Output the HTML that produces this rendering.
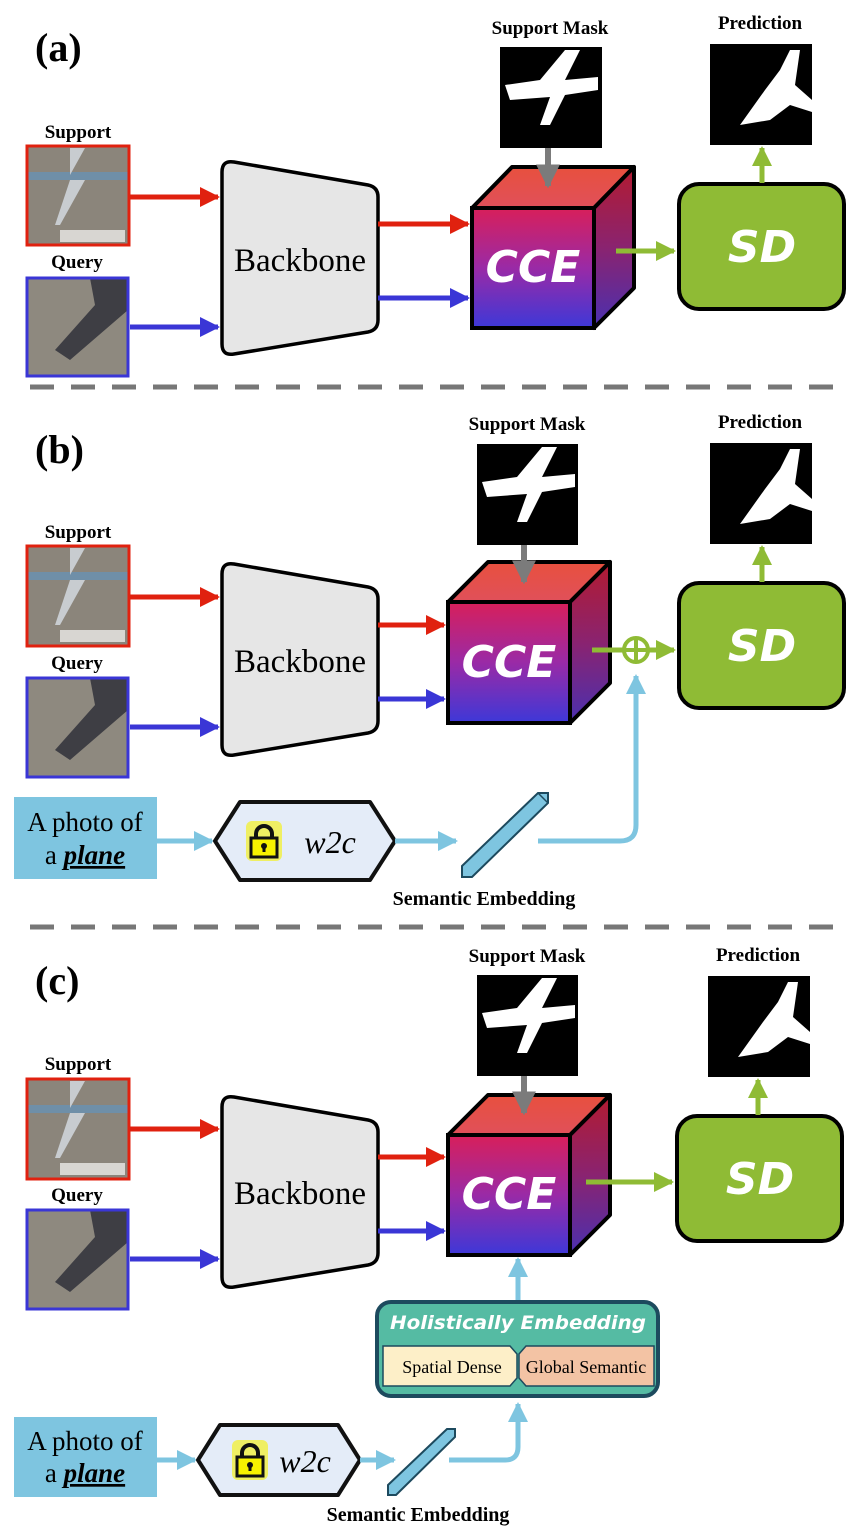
<!DOCTYPE html>
<html><head><meta charset="utf-8"><style>html,body{margin:0;padding:0;background:#fff}svg{display:block}</style></head>
<body>
<svg width="859" height="1536" viewBox="0 0 859 1536" xmlns="http://www.w3.org/2000/svg" font-family="'Liberation Serif',serif">
<defs>
<linearGradient id="gf" x1="0" y1="0" x2="0" y2="1"><stop offset="0" stop-color="#d81f5a"/><stop offset="0.5" stop-color="#9a2aa6"/><stop offset="1" stop-color="#3d38d8"/></linearGradient>
<linearGradient id="gt" x1="0" y1="0" x2="0" y2="1"><stop offset="0" stop-color="#e8503e"/><stop offset="1" stop-color="#e0505a"/></linearGradient>
<linearGradient id="gr" x1="0" y1="0" x2="0" y2="1"><stop offset="0" stop-color="#b31b30"/><stop offset="0.5" stop-color="#8a2370"/><stop offset="1" stop-color="#4a30b0"/></linearGradient>
<marker id="ar" viewBox="0 0 10 10" refX="9" refY="5" markerWidth="4" markerHeight="4" orient="auto"><path d="M0,0L10,5L0,10z" fill="#e0210f"/></marker>
<marker id="ab" viewBox="0 0 10 10" refX="9" refY="5" markerWidth="4" markerHeight="4" orient="auto"><path d="M0,0L10,5L0,10z" fill="#3a36d6"/></marker>
<marker id="ag" viewBox="0 0 10 10" refX="9" refY="5" markerWidth="4" markerHeight="4" orient="auto"><path d="M0,0L10,5L0,10z" fill="#8fbb35"/></marker>
<marker id="ay" viewBox="0 0 10 10" refX="9" refY="5" markerWidth="4" markerHeight="4" orient="auto"><path d="M0,0L10,5L0,10z" fill="#7b7b7b"/></marker>
<marker id="al" viewBox="0 0 10 10" refX="9" refY="5" markerWidth="4" markerHeight="4" orient="auto"><path d="M0,0L10,5L0,10z" fill="#7ec5e0"/></marker>
</defs>

<!-- ===== PANEL A ===== -->
<text x="35" y="61" font-size="40" font-weight="bold">(a)</text>
<text x="78" y="138" font-size="19" font-weight="bold" text-anchor="middle">Support</text>
<g><rect x="27" y="146" width="102" height="99" fill="#8b857b"/><rect x="27" y="172" width="102" height="8" fill="#6f8fa8"/><path d="M70,148 L85,148 L70,175 Z M70,180 L85,180 L60,225 L55,225 Z" fill="#c8ccd0"/><rect x="60" y="230" width="65" height="12" fill="#d8d6d2"/></g>
<rect x="27" y="146" width="102" height="99" fill="none" stroke="#e0210f" stroke-width="3"/>
<text x="77" y="268" font-size="19" font-weight="bold" text-anchor="middle">Query</text>
<g><rect x="27" y="278" width="101" height="98" fill="#8e897f"/><path d="M90,278 L128,278 L128,310 L70,360 L55,350 L95,305 Z" fill="#3e3e44"/></g>
<rect x="27" y="278" width="101" height="98" fill="none" stroke="#3a36d6" stroke-width="3"/>
<line x1="130" y1="197" x2="218" y2="197" stroke="#e0210f" stroke-width="5" marker-end="url(#ar)"/>
<line x1="130" y1="327" x2="218" y2="327" stroke="#3a36d6" stroke-width="5" marker-end="url(#ab)"/>
<path d="M222,172 Q222,160 234,162 L368,185 Q378,187 378,197 L378,320 Q378,330 368,332 L234,354 Q222,356 222,344 Z" fill="#e6e6e6" stroke="#000" stroke-width="3.5"/>
<text x="300" y="271" font-size="33" text-anchor="middle">Backbone</text>
<line x1="378" y1="224" x2="468" y2="224" stroke="#e0210f" stroke-width="5" marker-end="url(#ar)"/>
<line x1="378" y1="298" x2="468" y2="298" stroke="#3a36d6" stroke-width="5" marker-end="url(#ab)"/>
<text x="550" y="34" font-size="19" font-weight="bold" text-anchor="middle">Support Mask</text>
<rect x="500" y="47" width="102" height="101" fill="#000"/>
<path d="M505,85 L540,80 L565,50 L580,50 L565,80 L598,77 L598,90 L565,95 L550,125 L540,125 L550,97 L510,100 Z" fill="#fff"/>
<polygon points="472,208 512,167 634,167 594,208" fill="url(#gt)" stroke="#000" stroke-width="4" stroke-linejoin="round"/>
<polygon points="594,208 634,167 634,288 594,328" fill="url(#gr)" stroke="#000" stroke-width="4" stroke-linejoin="round"/>
<rect x="472" y="208" width="122" height="120" fill="url(#gf)" stroke="#000" stroke-width="4"/>
<line x1="548" y1="148" x2="548" y2="186" stroke="#7b7b7b" stroke-width="6" marker-end="url(#ay)"/>
<text x="533" y="282" font-size="44" font-weight="bold" font-style="italic" fill="#fff" text-anchor="middle" font-family="'DejaVu Sans',sans-serif">CCE</text>
<line x1="616" y1="251" x2="674" y2="251" stroke="#8fbb35" stroke-width="5" marker-end="url(#ag)"/>
<rect x="679" y="184" width="165" height="125" rx="20" fill="#8fbb35" stroke="#000" stroke-width="4"/>
<text x="762" y="262" font-size="44" font-weight="bold" font-style="italic" fill="#fff" text-anchor="middle" font-family="'DejaVu Sans',sans-serif">SD</text>
<text x="760" y="29" font-size="19" font-weight="bold" text-anchor="middle">Prediction</text>
<rect x="710" y="44" width="102" height="101" fill="#000"/>
<path d="M740,125 L765,90 L780,70 L790,50 L800,50 L795,85 L812,100 L812,112 L790,105 L770,120 Z" fill="#fff"/>
<line x1="762" y1="183" x2="762" y2="148" stroke="#8fbb35" stroke-width="5" marker-end="url(#ag)"/>
<line x1="30" y1="387" x2="842" y2="387" stroke="#777" stroke-width="5" stroke-dasharray="24,17"/>

<!-- ===== PANEL B ===== -->
<text x="35" y="463" font-size="40" font-weight="bold">(b)</text>
<text x="78" y="538" font-size="19" font-weight="bold" text-anchor="middle">Support</text>
<g><rect x="27" y="546" width="102" height="100" fill="#8b857b"/><rect x="27" y="572" width="102" height="8" fill="#6f8fa8"/><path d="M70,548 L85,548 L70,575 Z M70,580 L85,580 L60,625 L55,625 Z" fill="#c8ccd0"/><rect x="60" y="630" width="65" height="12" fill="#d8d6d2"/></g>
<rect x="27" y="546" width="102" height="100" fill="none" stroke="#e0210f" stroke-width="3"/>
<text x="77" y="669" font-size="19" font-weight="bold" text-anchor="middle">Query</text>
<g><rect x="27" y="678" width="101" height="99" fill="#8e897f"/><path d="M90,678 L128,678 L128,710 L70,760 L55,750 L95,705 Z" fill="#3e3e44"/></g>
<rect x="27" y="678" width="101" height="99" fill="none" stroke="#3a36d6" stroke-width="3"/>
<line x1="130" y1="597" x2="218" y2="597" stroke="#e0210f" stroke-width="5" marker-end="url(#ar)"/>
<line x1="130" y1="727" x2="218" y2="727" stroke="#3a36d6" stroke-width="5" marker-end="url(#ab)"/>
<path d="M222,574 Q222,562 234,564 L368,587 Q378,589 378,599 L378,721 Q378,731 368,733 L234,755 Q222,757 222,745 Z" fill="#e6e6e6" stroke="#000" stroke-width="3.5"/>
<text x="300" y="672" font-size="33" text-anchor="middle">Backbone</text>
<line x1="378" y1="625" x2="444" y2="625" stroke="#e0210f" stroke-width="5" marker-end="url(#ar)"/>
<line x1="378" y1="699" x2="444" y2="699" stroke="#3a36d6" stroke-width="5" marker-end="url(#ab)"/>
<text x="527" y="430" font-size="19" font-weight="bold" text-anchor="middle">Support Mask</text>
<rect x="477" y="444" width="101" height="101" fill="#000"/>
<path d="M482,482 L517,477 L542,447 L557,447 L542,477 L575,474 L575,487 L542,492 L527,522 L517,522 L527,494 L487,497 Z" fill="#fff"/>
<polygon points="448,602 488,562 610,562 570,602" fill="url(#gt)" stroke="#000" stroke-width="4" stroke-linejoin="round"/>
<polygon points="570,602 610,562 610,683 570,723" fill="url(#gr)" stroke="#000" stroke-width="4" stroke-linejoin="round"/>
<rect x="448" y="602" width="122" height="121" fill="url(#gf)" stroke="#000" stroke-width="4"/>
<line x1="524" y1="545" x2="524" y2="582" stroke="#7b7b7b" stroke-width="6" marker-end="url(#ay)"/>
<text x="509" y="677" font-size="44" font-weight="bold" font-style="italic" fill="#fff" text-anchor="middle" font-family="'DejaVu Sans',sans-serif">CCE</text>
<line x1="592" y1="650" x2="624" y2="650" stroke="#8fbb35" stroke-width="5"/>
<circle cx="636" cy="650" r="12" fill="none" stroke="#8fbb35" stroke-width="4"/>
<line x1="624" y1="650" x2="648" y2="650" stroke="#8fbb35" stroke-width="4"/>
<line x1="636" y1="638" x2="636" y2="662" stroke="#8fbb35" stroke-width="4"/>
<line x1="648" y1="650" x2="674" y2="650" stroke="#8fbb35" stroke-width="5" marker-end="url(#ag)"/>
<rect x="679" y="583" width="165" height="125" rx="20" fill="#8fbb35" stroke="#000" stroke-width="4"/>
<text x="762" y="661" font-size="44" font-weight="bold" font-style="italic" fill="#fff" text-anchor="middle" font-family="'DejaVu Sans',sans-serif">SD</text>
<text x="760" y="428" font-size="19" font-weight="bold" text-anchor="middle">Prediction</text>
<rect x="710" y="443" width="102" height="101" fill="#000"/>
<path d="M740,524 L765,489 L780,469 L790,449 L800,449 L795,484 L812,499 L812,511 L790,504 L770,519 Z" fill="#fff"/>
<line x1="762" y1="582" x2="762" y2="547" stroke="#8fbb35" stroke-width="5" marker-end="url(#ag)"/>
<rect x="14" y="797" width="143" height="82" fill="#7ec5e0"/>
<text x="85" y="831" font-size="27" text-anchor="middle">A photo of</text>
<text x="85" y="864" font-size="27" text-anchor="middle">a <tspan font-weight="bold" font-style="italic" text-decoration="underline">plane</tspan></text>
<line x1="157" y1="841" x2="212" y2="841" stroke="#7ec5e0" stroke-width="5" marker-end="url(#al)"/>
<polygon points="215,841 240,802 370,802 395,841 370,880 240,880" fill="#e4ecf8" stroke="#111" stroke-width="4" stroke-linejoin="round"/>
<g transform="translate(264,843)"><rect x="-18" y="-22" width="36" height="40" rx="6" fill="#f7f200" opacity="0.6"/><path d="M-8,-4 L-8,-9 A8,8 0 0 1 8,-9 L8,-4" fill="none" stroke="#111" stroke-width="4"/><rect x="-13" y="-5" width="26" height="19" fill="#f7f200" stroke="#111" stroke-width="3"/><circle cx="0" cy="3" r="3" fill="#111"/><rect x="-1.5" y="3" width="3" height="6" fill="#111"/></g>
<text x="330" y="853" font-size="32" font-style="italic" text-anchor="middle">w2c</text>
<line x1="395" y1="841" x2="456" y2="841" stroke="#7ec5e0" stroke-width="5" marker-end="url(#al)"/>
<polygon points="462,866 538,793 548,793 548,803 472,877 462,877" fill="#7ec5e0" stroke="#1d4a5e" stroke-width="2"/>
<line x1="538" y1="793" x2="548" y2="803" stroke="#1d4a5e" stroke-width="1.5"/>
<path d="M538,841 L620,841 Q636,841 636,825 L636,676" fill="none" stroke="#7ec5e0" stroke-width="5" marker-end="url(#al)"/>
<text x="484" y="905" font-size="20" font-weight="bold" text-anchor="middle">Semantic Embedding</text>
<line x1="30" y1="927" x2="842" y2="927" stroke="#777" stroke-width="5" stroke-dasharray="24,17"/>

<!-- ===== PANEL C ===== -->
<text x="35" y="994" font-size="40" font-weight="bold">(c)</text>
<text x="78" y="1070" font-size="19" font-weight="bold" text-anchor="middle">Support</text>
<g><rect x="27" y="1079" width="102" height="100" fill="#8b857b"/><rect x="27" y="1105" width="102" height="8" fill="#6f8fa8"/><path d="M70,1081 L85,1081 L70,1108 Z M70,1113 L85,1113 L60,1158 L55,1158 Z" fill="#c8ccd0"/><rect x="60" y="1163" width="65" height="12" fill="#d8d6d2"/></g>
<rect x="27" y="1079" width="102" height="100" fill="none" stroke="#e0210f" stroke-width="3"/>
<text x="77" y="1201" font-size="19" font-weight="bold" text-anchor="middle">Query</text>
<g><rect x="27" y="1210" width="101" height="99" fill="#8e897f"/><path d="M90,1210 L128,1210 L128,1242 L70,1292 L55,1282 L95,1237 Z" fill="#3e3e44"/></g>
<rect x="27" y="1210" width="101" height="99" fill="none" stroke="#3a36d6" stroke-width="3"/>
<line x1="130" y1="1129" x2="218" y2="1129" stroke="#e0210f" stroke-width="5" marker-end="url(#ar)"/>
<line x1="130" y1="1259" x2="218" y2="1259" stroke="#3a36d6" stroke-width="5" marker-end="url(#ab)"/>
<path d="M222,1107 Q222,1095 234,1097 L368,1120 Q378,1122 378,1132 L378,1253 Q378,1263 368,1265 L234,1287 Q222,1289 222,1277 Z" fill="#e6e6e6" stroke="#000" stroke-width="3.5"/>
<text x="300" y="1204" font-size="33" text-anchor="middle">Backbone</text>
<line x1="378" y1="1157" x2="444" y2="1157" stroke="#e0210f" stroke-width="5" marker-end="url(#ar)"/>
<line x1="378" y1="1231" x2="444" y2="1231" stroke="#3a36d6" stroke-width="5" marker-end="url(#ab)"/>
<text x="527" y="962" font-size="19" font-weight="bold" text-anchor="middle">Support Mask</text>
<rect x="477" y="975" width="101" height="101" fill="#000"/>
<path d="M482,1013 L517,1008 L542,978 L557,978 L542,1008 L575,1005 L575,1018 L542,1023 L527,1053 L517,1053 L527,1025 L487,1028 Z" fill="#fff"/>
<polygon points="448,1135 488,1095 610,1095 570,1135" fill="url(#gt)" stroke="#000" stroke-width="4" stroke-linejoin="round"/>
<polygon points="570,1135 610,1095 610,1215 570,1255" fill="url(#gr)" stroke="#000" stroke-width="4" stroke-linejoin="round"/>
<rect x="448" y="1135" width="122" height="120" fill="url(#gf)" stroke="#000" stroke-width="4"/>
<line x1="524" y1="1076" x2="524" y2="1113" stroke="#7b7b7b" stroke-width="6" marker-end="url(#ay)"/>
<text x="509" y="1209" font-size="44" font-weight="bold" font-style="italic" fill="#fff" text-anchor="middle" font-family="'DejaVu Sans',sans-serif">CCE</text>
<line x1="586" y1="1182" x2="672" y2="1182" stroke="#8fbb35" stroke-width="5" marker-end="url(#ag)"/>
<rect x="677" y="1116" width="165" height="125" rx="20" fill="#8fbb35" stroke="#000" stroke-width="4"/>
<text x="760" y="1194" font-size="44" font-weight="bold" font-style="italic" fill="#fff" text-anchor="middle" font-family="'DejaVu Sans',sans-serif">SD</text>
<text x="758" y="961" font-size="19" font-weight="bold" text-anchor="middle">Prediction</text>
<rect x="708" y="976" width="102" height="101" fill="#000"/>
<path d="M738,1057 L763,1022 L778,1002 L788,982 L798,982 L793,1017 L810,1032 L810,1044 L788,1037 L768,1052 Z" fill="#fff"/>
<line x1="758" y1="1115" x2="758" y2="1080" stroke="#8fbb35" stroke-width="5" marker-end="url(#ag)"/>
<line x1="518" y1="1302" x2="518" y2="1259" stroke="#7ec5e0" stroke-width="5" marker-end="url(#al)"/>
<rect x="377" y="1302" width="281" height="94" rx="14" fill="#55bba3" stroke="#1d4a5e" stroke-width="4"/>
<text x="518" y="1329" font-size="19" font-weight="bold" font-style="italic" fill="#fff" text-anchor="middle" font-family="'DejaVu Sans',sans-serif" textLength="256" lengthAdjust="spacingAndGlyphs">Holistically Embedding</text>
<polygon points="383,1346 510,1346 517,1354 517,1378 510,1386 383,1386" fill="#fdefc8" stroke="#1d4a5e" stroke-width="1.5"/>
<polygon points="519,1354 526,1346 654,1346 654,1386 526,1386 519,1378" fill="#f3c3a4" stroke="#1d4a5e" stroke-width="1.5"/>
<text x="452" y="1373" font-size="18" text-anchor="middle">Spatial Dense</text>
<text x="586" y="1373" font-size="18" text-anchor="middle">Global Semantic</text>
<rect x="14" y="1417" width="143" height="80" fill="#7ec5e0"/>
<text x="85" y="1450" font-size="27" text-anchor="middle">A photo of</text>
<text x="85" y="1482" font-size="27" text-anchor="middle">a <tspan font-weight="bold" font-style="italic" text-decoration="underline">plane</tspan></text>
<line x1="157" y1="1460" x2="195" y2="1460" stroke="#7ec5e0" stroke-width="5" marker-end="url(#al)"/>
<polygon points="198,1460 220,1425 338,1425 360,1460 338,1495 220,1495" fill="#e4ecf8" stroke="#111" stroke-width="4" stroke-linejoin="round"/>
<g transform="translate(250,1462)"><rect x="-18" y="-22" width="36" height="40" rx="6" fill="#f7f200" opacity="0.6"/><path d="M-8,-4 L-8,-9 A8,8 0 0 1 8,-9 L8,-4" fill="none" stroke="#111" stroke-width="4"/><rect x="-13" y="-5" width="26" height="19" fill="#f7f200" stroke="#111" stroke-width="3"/><circle cx="0" cy="3" r="3" fill="#111"/><rect x="-1.5" y="3" width="3" height="6" fill="#111"/></g>
<text x="305" y="1472" font-size="32" font-style="italic" text-anchor="middle">w2c</text>
<line x1="360" y1="1460" x2="394" y2="1460" stroke="#7ec5e0" stroke-width="5" marker-end="url(#al)"/>
<polygon points="388,1485 447,1429 455,1429 455,1437 396,1495 388,1495" fill="#7ec5e0" stroke="#1d4a5e" stroke-width="2"/>
<path d="M449,1460 L505,1460 Q518,1460 518,1447 L518,1404" fill="none" stroke="#7ec5e0" stroke-width="5" marker-end="url(#al)"/>
<text x="418" y="1521" font-size="20" font-weight="bold" text-anchor="middle">Semantic Embedding</text>
</svg>
</body></html>
